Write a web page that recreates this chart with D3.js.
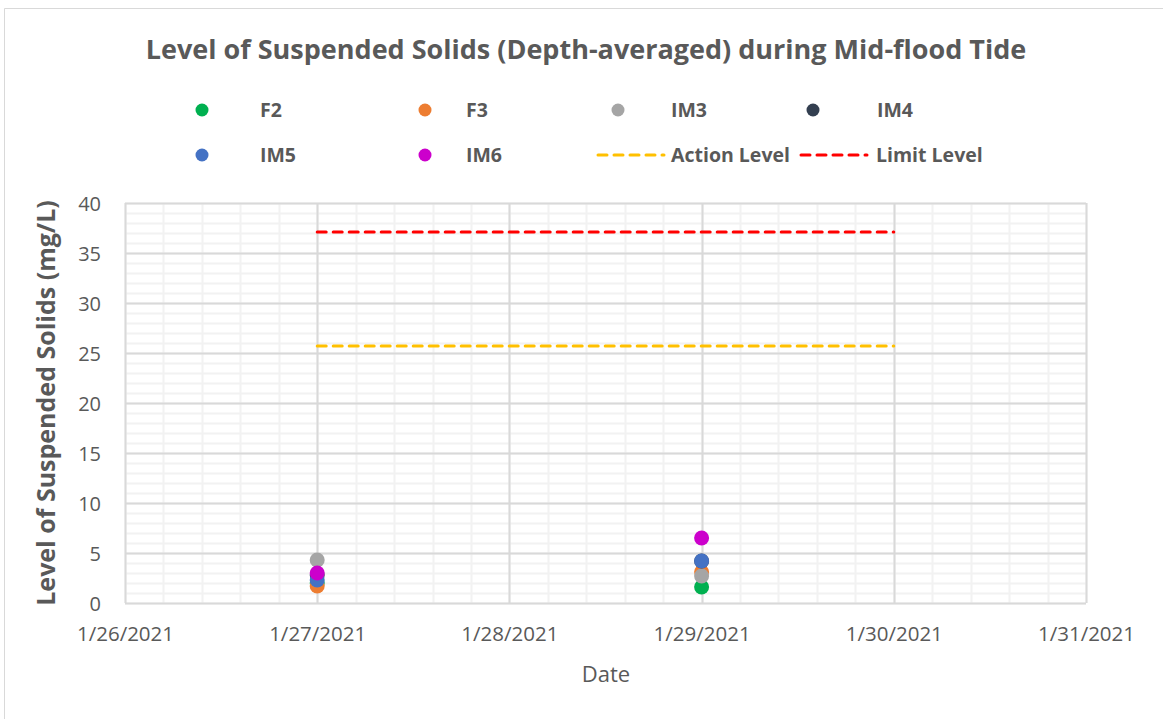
<!DOCTYPE html>
<html>
<head>
<meta charset="utf-8">
<script src="https://cdn.jsdelivr.net/npm/d3@7"></script>
<style>
  body { margin: 0; background: #fff; }
  text { font-family: "Open Sans", "Liberation Sans", sans-serif; }
</style>
</head>
<body>
<div id="chart"></div>
<script>
// data
const dates = ["2021-01-27", "2021-01-29"];
const seriesNames = ["F2", "F3", "IM3", "IM4", "IM5", "IM6"];
const seriesColors = ["#00B050", "#ED7D31", "#A5A5A5", "#333F50", "#4472C4", "#CC00CC"];
const f2 = [2.0, 1.6];
const f3 = [1.7, 3.1];
const im3 = [4.3, 2.7];
const im4 = [2.8, 4.2];
const im5 = [2.3, 4.2];
const im6 = [3.0, 6.5];
const seriesValues = [f2, f3, im3, im4, im5, im6];

const levelDates = ["2021-01-27", "2021-01-30"];
const actionLevel = [25.7, 25.7];
const limitLevel = [37.1, 37.1];

const xTickLabels = ["1/26/2021", "1/27/2021", "1/28/2021", "1/29/2021", "1/30/2021", "1/31/2021"];
const yTicks = [0, 5, 10, 15, 20, 25, 30, 35, 40];

const width = 1163;
const height = 719;
const margin = { left: 125, right: 77, top: 203, bottom: 116 };
const textColor = "#595959";
const dash = "9,7";

const svg = d3.select("#chart")
    .append("svg")
    .attr("width", width)
    .attr("height", height);

// chart frame
svg.append("path")
    .attr("d", `M4.5,${height} V8.5 H${width}`)
    .attr("fill", "none")
    .attr("stroke", "#D9D9D9")
    .attr("stroke-width", 1);

const parse = d3.timeParse("%Y-%m-%d");
const x = d3.scaleTime()
    .domain([parse("2021-01-26"), parse("2021-01-31")])
    .range([margin.left, width - margin.right]);
const y = d3.scaleLinear()
    .domain([0, 40])
    .range([height - margin.bottom, margin.top]);

// minor gridlines
const minorX = d3.range(0, 5 * 5 + 1).map(i => new Date(x.domain()[0].getTime() + i * 0.2 * 864e5));
svg.append("g")
    .selectAll("line")
    .data(minorX)
    .join("line")
    .attr("x1", d => Math.round(x(d)) + 0.5)
    .attr("x2", d => Math.round(x(d)) + 0.5)
    .attr("y1", y(40))
    .attr("y2", y(0))
    .attr("stroke", "#F2F2F2")
    .attr("stroke-width", 2);
svg.append("g")
    .selectAll("line")
    .data(d3.range(0, 41))
    .join("line")
    .attr("x1", margin.left)
    .attr("x2", width - margin.right)
    .attr("y1", d => Math.round(y(d)) + 0.5)
    .attr("y2", d => Math.round(y(d)) + 0.5)
    .attr("stroke", "#F2F2F2")
    .attr("stroke-width", 2);

// major gridlines
svg.append("g")
    .selectAll("line")
    .data(x.ticks(d3.timeDay.every(1)))
    .join("line")
    .attr("x1", d => Math.round(x(d)) + 0.5)
    .attr("x2", d => Math.round(x(d)) + 0.5)
    .attr("y1", y(40))
    .attr("y2", y(0))
    .attr("stroke", "#D9D9D9")
    .attr("stroke-width", 2);
svg.append("g")
    .selectAll("line")
    .data(yTicks)
    .join("line")
    .attr("x1", margin.left)
    .attr("x2", width - margin.right)
    .attr("y1", d => Math.round(y(d)) + 0.5)
    .attr("y2", d => Math.round(y(d)) + 0.5)
    .attr("stroke", "#D9D9D9")
    .attr("stroke-width", 2);

// axes labels
svg.append("g")
    .attr("transform", `translate(${margin.left - 21},0)`)
    .call(d3.axisLeft(y).tickValues(yTicks).tickSize(0))
    .call(g => g.select(".domain").remove())
    .selectAll("text")
    .attr("fill", textColor)
    .style("font-size", "20px")
    .style("font-family", "'Open Sans', sans-serif")
    .attr("dy", "0.35em");

svg.append("g")
    .attr("transform", `translate(0,${y(0) + 20})`)
    .call(d3.axisBottom(x).ticks(d3.timeDay.every(1)).tickSize(0).tickFormat((d, i) => xTickLabels[i]))
    .call(g => g.select(".domain").remove())
    .selectAll("text")
    .attr("fill", textColor)
    .style("font-size", "20.5px")
    .style("font-family", "'Open Sans', sans-serif");

// level lines
const line = d3.line()
    .x(d => x(parse(d[0])))
    .y(d => y(d[1]));

svg.append("path")
    .datum(levelDates.map((d, i) => [d, actionLevel[i]]))
    .attr("d", line)
    .attr("fill", "none")
    .attr("stroke", "#FFC000")
    .attr("stroke-width", 3)
    .attr("stroke-dasharray", dash)
    .attr("stroke-linecap", "round");

svg.append("path")
    .datum(levelDates.map((d, i) => [d, limitLevel[i]]))
    .attr("d", line)
    .attr("fill", "none")
    .attr("stroke", "#FF0000")
    .attr("stroke-width", 3)
    .attr("stroke-dasharray", dash)
    .attr("stroke-linecap", "round");

// points
seriesValues.forEach((vals, s) => {
    svg.append("g")
        .selectAll("circle")
        .data(vals)
        .join("circle")
        .attr("cx", (d, i) => x(parse(dates[i])))
        .attr("cy", d => y(d))
        .attr("r", 7.5)
        .attr("fill", seriesColors[s]);
});

// title
svg.append("text")
    .attr("x", 586)
    .attr("y", 59)
    .attr("text-anchor", "middle")
    .attr("fill", textColor)
    .style("font-size", "27px")
    .style("font-weight", "bold")
    .text("Level of Suspended Solids (Depth-averaged) during Mid-flood Tide");

// axis titles
svg.append("text")
    .attr("x", 606)
    .attr("y", 682)
    .attr("text-anchor", "middle")
    .attr("fill", textColor)
    .style("font-size", "22px")
    .text("Date");

svg.append("text")
    .attr("transform", "translate(55,403) rotate(-90)")
    .attr("text-anchor", "middle")
    .attr("fill", textColor)
    .style("font-size", "25px")
    .style("font-weight", "bold")
    .text("Level of Suspended Solids (mg/L)");

// legend
const legendPos = [[202, 110], [425, 110], [618, 110], [813, 110], [202, 155], [425, 155]];
const legendLabelX = [260, 466, 671, 877, 260, 466];
seriesNames.forEach((name, i) => {
    svg.append("circle")
        .attr("cx", legendPos[i][0])
        .attr("cy", legendPos[i][1])
        .attr("r", 6.5)
        .attr("fill", seriesColors[i]);
    svg.append("text")
        .attr("x", legendLabelX[i])
        .attr("y", legendPos[i][1])
        .attr("dy", "0.35em")
        .attr("fill", textColor)
        .style("font-size", "19.5px")
        .style("font-weight", "bold")
        .text(name);
});

const levelLegend = [
    { name: "Action Level", color: "#FFC000", x1: 598, x2: 664, tx: 671 },
    { name: "Limit Level", color: "#FF0000", x1: 801, x2: 867, tx: 876 }
];
levelLegend.forEach(l => {
    svg.append("line")
        .attr("x1", l.x1)
        .attr("x2", l.x2)
        .attr("y1", 155)
        .attr("y2", 155)
        .attr("stroke", l.color)
        .attr("stroke-width", 3)
        .attr("stroke-dasharray", dash)
        .attr("stroke-linecap", "round");
    svg.append("text")
        .attr("x", l.tx)
        .attr("y", 155)
        .attr("dy", "0.35em")
        .attr("fill", textColor)
        .style("font-size", "19.5px")
        .style("font-weight", "bold")
        .text(l.name);
});
</script>
</body>
</html>
